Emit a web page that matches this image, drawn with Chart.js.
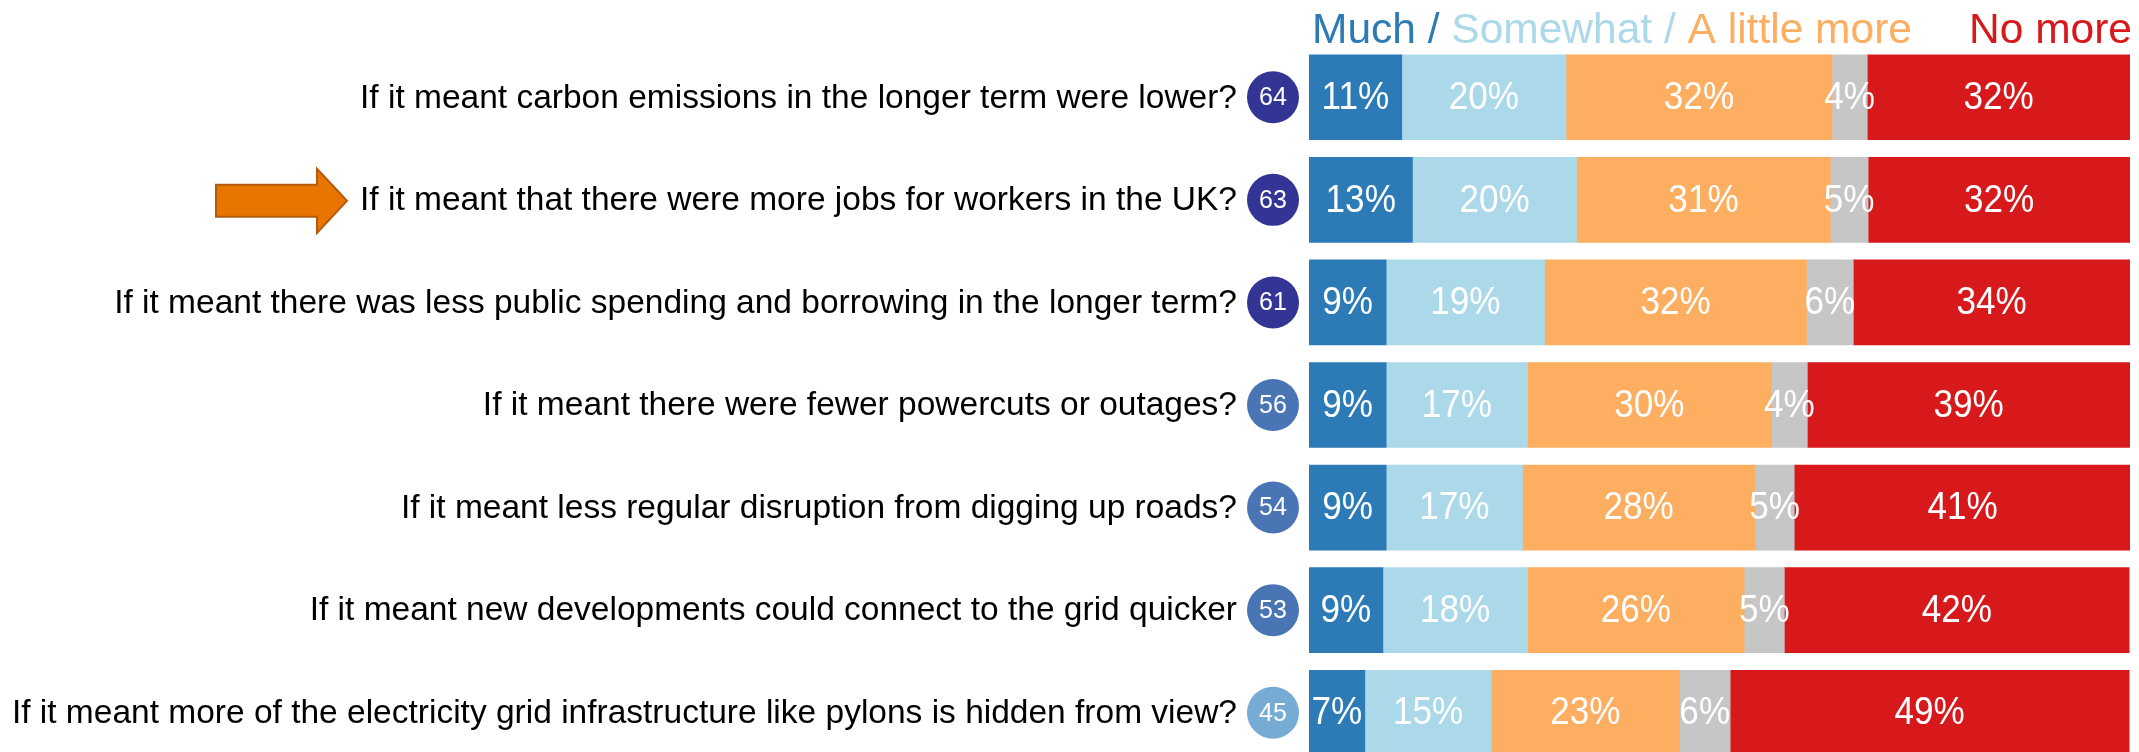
<!DOCTYPE html>
<html lang="en">
<head>
<meta charset="utf-8">
<title>Would you pay more for your energy bill?</title>
<script src="https://cdn.jsdelivr.net/npm/chart.js@4.4.1/dist/chart.umd.min.js"></script>
<style>
    html, body {
        margin: 0;
        padding: 0;
        background: #ffffff;
        overflow: hidden;
    }
    .chart-wrap {
        position: relative;
        width: 2139px;
        height: 765px;
    }
</style>
</head>
<body>
<div class="chart-wrap">
    <canvas id="payMoreChart"></canvas>
</div>
<script>
const questions = [
    'If it meant carbon emissions in the longer term were lower?',
    'If it meant that there were more jobs for workers in the UK?',
    'If it meant there was less public spending and borrowing in the longer term?',
    'If it meant there were fewer powercuts or outages?',
    'If it meant less regular disruption from digging up roads?',
    'If it meant new developments could connect to the grid quicker',
    'If it meant more of the electricity grid infrastructure like pylons is hidden from view?'
];

const netScores = [64, 63, 61, 56, 54, 53, 45];

const muchMore = [11.3, 12.6, 9.4, 9.4, 9.4, 9.0, 6.8];
const somewhatMore = [20.0, 20.0, 19.3, 17.2, 16.6, 17.6, 15.4];
const littleMore = [32.4, 30.9, 31.9, 29.7, 28.3, 26.4, 22.9];
const dontKnow = [4.3, 4.6, 5.7, 4.4, 4.8, 4.9, 6.2];
const noMore = [32.0, 31.9, 33.7, 39.3, 41.0, 42.0, 48.6];

const highlightRow = 1;

const colors = {
    much: '#2c7bb6',
    somewhat: '#abd9e9',
    little: '#fdae61',
    dontKnow: '#c6c6c6',
    no: '#d7191c'
};

const FONT = "'Liberation Sans', Arial, Helvetica, sans-serif";

function scoreColor(score) {
    if (score >= 60) return '#333594';
    if (score >= 50) return '#4a75b5';
    return '#76acd3';
}

// percentages written in the middle of each segment (slightly narrow, like the original)
const segmentLabels = {
    id: 'segmentLabels',
    afterDatasetsDraw(chart) {
        const ctx = chart.ctx;
        ctx.font = `39px ${FONT}`;
        ctx.fillStyle = '#ffffff';
        ctx.textAlign = 'center';
        ctx.textBaseline = 'middle';
        chart.data.datasets.forEach((ds, di) => {
            chart.getDatasetMeta(di).data.forEach((bar, i) => {
                ctx.save();
                ctx.translate((bar.x + bar.base) / 2, bar.y + 1);
                ctx.scale(0.9, 1);
                ctx.fillText(Math.round(ds.data[i]) + '%', 0, 0);
                ctx.restore();
            });
        });
    }
};

// header, question labels, score circles and the arrow
const decorations = {
    id: 'decorations',
    afterDraw(chart) {
        const ctx = chart.ctx;
        const area = chart.chartArea;
        const yScale = chart.scales.y;
        ctx.save();

        ctx.font = `42.5px ${FONT}`;
        ctx.textBaseline = 'alphabetic';
        ctx.textAlign = 'left';
        let x = area.left + 3;
        [['Much /', colors.much], [' Somewhat /', colors.somewhat], [' A little more', colors.little]].forEach(([txt, col]) => {
            ctx.fillStyle = col;
            ctx.fillText(txt, x, 43);
            x += ctx.measureText(txt).width;
        });
        ctx.textAlign = 'right';
        ctx.fillStyle = colors.no;
        ctx.fillText('No more', area.right + 2, 43);

        ctx.textBaseline = 'middle';
        ctx.font = `33.5px ${FONT}`;
        ctx.fillStyle = '#000000';
        chart.data.labels.forEach((label, i) => {
            ctx.fillText(label, area.left - 72, yScale.getPixelForValue(i) + 1);
        });

        ctx.textAlign = 'center';
        ctx.font = `25px ${FONT}`;
        netScores.forEach((score, i) => {
            const cy = yScale.getPixelForValue(i);
            const cx = area.left - 36;
            ctx.beginPath();
            ctx.arc(cx, cy, 26, 0, Math.PI * 2);
            ctx.fillStyle = scoreColor(score);
            ctx.fill();
            ctx.fillStyle = '#ffffff';
            ctx.fillText(String(score), cx, cy + 1);
        });

        const ay = yScale.getPixelForValue(highlightRow) + 1;
        ctx.beginPath();
        ctx.moveTo(216, ay - 16);
        ctx.lineTo(317, ay - 16);
        ctx.lineTo(317, ay - 32);
        ctx.lineTo(347, ay);
        ctx.lineTo(317, ay + 32);
        ctx.lineTo(317, ay + 16);
        ctx.lineTo(216, ay + 16);
        ctx.closePath();
        ctx.fillStyle = '#e87500';
        ctx.fill();
        ctx.lineWidth = 2;
        ctx.strokeStyle = '#b35a0f';
        ctx.stroke();

        ctx.restore();
    }
};

const chartCtx = document.getElementById('payMoreChart');
if (chartCtx) {
    new Chart(chartCtx, {
        type: 'bar',
        data: {
            labels: questions,
            datasets: [
                { label: 'Much more', data: muchMore, backgroundColor: colors.much },
                { label: 'Somewhat more', data: somewhatMore, backgroundColor: colors.somewhat },
                { label: 'A little more', data: littleMore, backgroundColor: colors.little },
                { label: "Don't know", data: dontKnow, backgroundColor: colors.dontKnow },
                { label: 'No more', data: noMore, backgroundColor: colors.no }
            ]
        },
        options: {
            indexAxis: 'y',
            responsive: true,
            maintainAspectRatio: false,
            animation: false,
            layout: {
                padding: { top: 46, right: 9, bottom: 1, left: 1309 }
            },
            datasets: {
                bar: {
                    barThickness: 85,
                    borderWidth: 0
                }
            },
            plugins: {
                legend: { display: false },
                tooltip: { enabled: false }
            },
            scales: {
                x: {
                    stacked: true,
                    min: 0,
                    max: 100,
                    display: false
                },
                y: {
                    stacked: true,
                    display: false
                }
            }
        },
        plugins: [segmentLabels, decorations]
    });
}
</script>
</body>
</html>
